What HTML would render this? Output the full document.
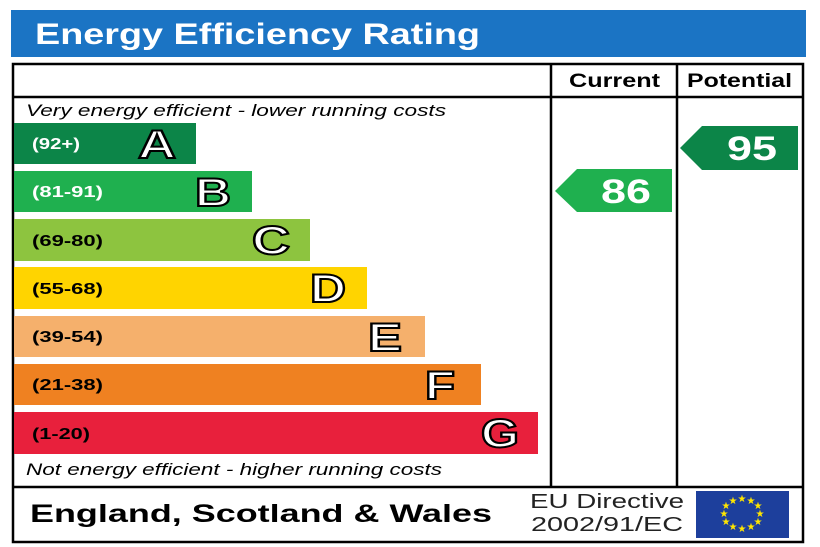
<!DOCTYPE html>
<html><head><style>body{margin:0;background:#fff}svg{display:block}</style></head><body>
<svg width="820" height="547" viewBox="0 0 820 547" xmlns="http://www.w3.org/2000/svg" font-family="Liberation Sans, sans-serif">
<rect x="11" y="10" width="795" height="47" fill="#1b74c4"/>
<text x="35" y="44" font-size="30" font-weight="bold" fill="#fff" textLength="445" lengthAdjust="spacingAndGlyphs">Energy Efficiency Rating</text>
<rect x="13" y="64" width="790" height="478" fill="#fff" stroke="#000" stroke-width="2.5"/>
<line x1="13" y1="97" x2="803" y2="97" stroke="#000" stroke-width="2.5"/>
<line x1="13" y1="487" x2="803" y2="487" stroke="#000" stroke-width="2.5"/>
<line x1="551" y1="64" x2="551" y2="487" stroke="#000" stroke-width="2.5"/>
<line x1="677" y1="64" x2="677" y2="487" stroke="#000" stroke-width="2.5"/>
<text x="569" y="87" font-size="19" font-weight="bold" textLength="91" lengthAdjust="spacingAndGlyphs">Current</text>
<text x="687" y="87" font-size="19" font-weight="bold" textLength="105" lengthAdjust="spacingAndGlyphs">Potential</text>
<text x="26" y="116" font-size="17" font-style="italic" textLength="420" lengthAdjust="spacingAndGlyphs">Very energy efficient - lower running costs</text>
<text x="26" y="475" font-size="17" font-style="italic" textLength="416" lengthAdjust="spacingAndGlyphs">Not energy efficient - higher running costs</text>
<g font-weight="bold">
<rect x="14" y="123" width="182" height="41" fill="#0c8548"/>
<text x="32" y="149" font-size="16" fill="#fff" textLength="48" lengthAdjust="spacingAndGlyphs">(92+)</text>
<text x="157" y="158" font-size="40" fill="#fff" stroke="#000" stroke-width="2" text-anchor="middle" textLength="38" lengthAdjust="spacingAndGlyphs">A</text>
<rect x="14" y="171" width="238" height="41" fill="#1fb04f"/>
<text x="32" y="197" font-size="16" fill="#fff" textLength="71" lengthAdjust="spacingAndGlyphs">(81-91)</text>
<text x="213" y="206" font-size="40" fill="#fff" stroke="#000" stroke-width="2" text-anchor="middle" textLength="36" lengthAdjust="spacingAndGlyphs">B</text>
<rect x="14" y="219" width="296" height="42" fill="#8dc43f"/>
<text x="32" y="246" font-size="16" fill="#000" textLength="71" lengthAdjust="spacingAndGlyphs">(69-80)</text>
<text x="271" y="254" font-size="40" fill="#fff" stroke="#000" stroke-width="2" text-anchor="middle" textLength="38" lengthAdjust="spacingAndGlyphs">C</text>
<rect x="14" y="267" width="353" height="42" fill="#ffd400"/>
<text x="32" y="294" font-size="16" fill="#000" textLength="71" lengthAdjust="spacingAndGlyphs">(55-68)</text>
<text x="328" y="302" font-size="40" fill="#fff" stroke="#000" stroke-width="2" text-anchor="middle" textLength="36" lengthAdjust="spacingAndGlyphs">D</text>
<rect x="14" y="316" width="411" height="41" fill="#f5b06c"/>
<text x="32" y="342" font-size="16" fill="#000" textLength="71" lengthAdjust="spacingAndGlyphs">(39-54)</text>
<text x="385" y="351" font-size="40" fill="#fff" stroke="#000" stroke-width="2" text-anchor="middle" textLength="34" lengthAdjust="spacingAndGlyphs">E</text>
<rect x="14" y="364" width="467" height="41" fill="#ef8121"/>
<text x="32" y="390" font-size="16" fill="#000" textLength="71" lengthAdjust="spacingAndGlyphs">(21-38)</text>
<text x="440" y="399" font-size="40" fill="#fff" stroke="#000" stroke-width="2" text-anchor="middle" textLength="30" lengthAdjust="spacingAndGlyphs">F</text>
<rect x="14" y="412" width="524" height="42" fill="#e8203c"/>
<text x="32" y="439" font-size="16" fill="#000" textLength="58" lengthAdjust="spacingAndGlyphs">(1-20)</text>
<text x="500" y="447" font-size="40" fill="#fff" stroke="#000" stroke-width="2" text-anchor="middle" textLength="38" lengthAdjust="spacingAndGlyphs">G</text>
<polygon points="555,191 577,169 672,169 672,212 577,212" fill="#1fb04f"/>
<text x="601" y="203" font-size="34" fill="#fff" textLength="50" lengthAdjust="spacingAndGlyphs">86</text>
<polygon points="680,148 702,126 798,126 798,170 702,170" fill="#0c8548"/>
<text x="727" y="160" font-size="34" fill="#fff" textLength="50" lengthAdjust="spacingAndGlyphs">95</text>
<text x="30" y="522" font-size="25" textLength="462" lengthAdjust="spacingAndGlyphs">England, Scotland &amp; Wales</text>
</g>
<text x="530" y="508" font-size="20" fill="#222" textLength="154" lengthAdjust="spacingAndGlyphs">EU Directive</text>
<text x="531" y="531" font-size="20" fill="#222" textLength="152" lengthAdjust="spacingAndGlyphs">2002/91/EC</text>
<rect x="696" y="491" width="93" height="47" fill="#1d3f9c"/>
<g fill="#ffe600" font-size="10" text-anchor="middle">
<text x="742" y="502">★</text><text x="751" y="504">★</text><text x="758" y="509">★</text><text x="760" y="517">★</text><text x="758" y="525">★</text><text x="751" y="530">★</text><text x="742" y="532">★</text><text x="733" y="530">★</text><text x="726" y="525">★</text><text x="724" y="517">★</text><text x="726" y="509">★</text><text x="733" y="504">★</text>
</g>
</svg>
</body></html>
